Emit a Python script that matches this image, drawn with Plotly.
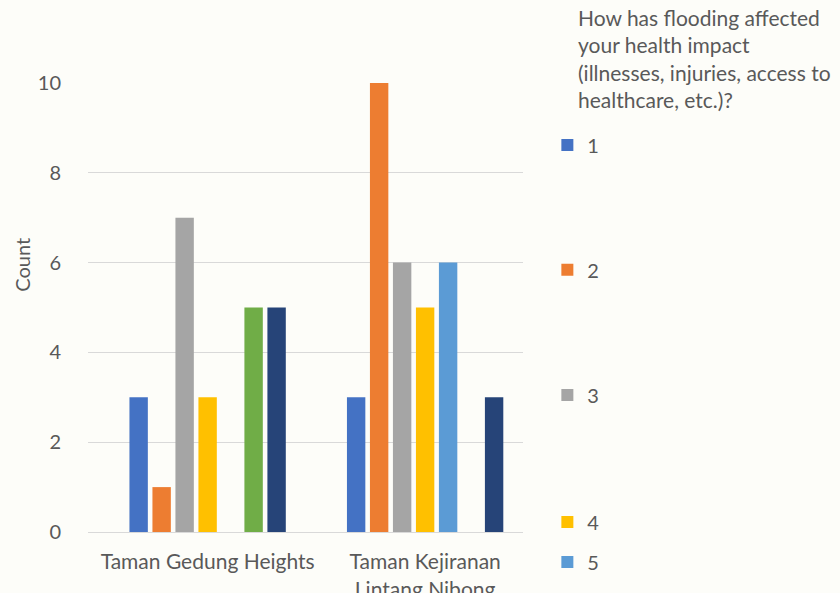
import plotly.graph_objects as go

# Survey answers per neighbourhood, split by response level 1-7
categories = ["Taman Gedung Heights", "Taman Kejiranan<br>Lintang Nibong"]
series_names = ["1", "2", "3", "4", "5", "6", "7"]
series_values = [
    [3, 3],
    [1, 10],
    [7, 6],
    [3, 5],
    [0, 6],
    [5, 0],
    [5, 3],
]
series_colors = ["#4472C4", "#ED7D31", "#A5A5A5", "#FFC000", "#5B9BD5", "#70AD47", "#264478"]
y_ticks = [0, 2, 4, 6, 8, 10]
legend_title = "How has flooding affected<br>your health impact<br>(illnesses, injuries, access to<br>healthcare, etc.)?"

FONT = "Lato, 'Open Sans', sans-serif"
TEXT = "#595959"
BG = "#fdfdf9"
FS = 21

# each response level gets its own legend so the entries can sit far apart;
# levels 6 and 7 fall below the visible area
legend_y = [0.862, 0.584, 0.305, 0.022, -0.067]

fig = go.Figure()
for i, (name, vals, col) in enumerate(zip(series_names, series_values, series_colors)):
    lid = "legend" if i == 0 else f"legend{i + 1}"
    fig.add_trace(go.Bar(
        name=name, x=categories, y=vals, marker=dict(color=col, line=dict(width=0)),
        legend=lid if i < len(legend_y) else "legend",
        showlegend=i < len(legend_y),
    ))

layout_legends = {}
for i, ly in enumerate(legend_y):
    lid = "legend" if i == 0 else f"legend{i + 1}"
    layout_legends[lid] = dict(
        x=1.056, y=ly, xanchor="left", yanchor="middle",
        font=dict(family=FONT, size=FS - 1, color=TEXT),
        bgcolor="rgba(0,0,0,0)", borderwidth=0, visible=True,
    )

fig.update_layout(
    width=840, height=593,
    margin=dict(l=88, r=317, t=83, b=61, autoexpand=False),
    paper_bgcolor=BG, plot_bgcolor=BG,
    barmode="group", bargap=0.26, bargroupgap=0.2,
    font=dict(family=FONT, size=FS, color=TEXT),
    showlegend=True,
    **layout_legends,
)
fig.update_yaxes(
    range=[0, 10], tickvals=y_ticks, showgrid=True, gridcolor="#d9d9d9", gridwidth=1,
    zeroline=False, showline=False, ticklabelstandoff=26,
    tickfont=dict(family=FONT, size=FS - 1, color=TEXT),
)
fig.update_xaxes(
    range=[-0.55, 1.45],
    showline=True, linecolor="#d9d9d9", linewidth=1, ticks="",
    ticklabelstandoff=11, tickfont=dict(family=FONT, size=FS, color=TEXT),
)

fig.add_annotation(
    text="Count", textangle=-90, xref="paper", yref="paper",
    x=-0.152, y=0.595, xanchor="center", yanchor="middle", showarrow=False,
    font=dict(family=FONT, size=FS - 1, color=TEXT),
)
fig.add_annotation(
    text=legend_title, xref="paper", yref="paper", x=1.122, y=1.178,
    xanchor="left", yanchor="top", align="left", showarrow=False,
    font=dict(family=FONT, size=FS, color=TEXT),
)

fig.write_html("out.html")
